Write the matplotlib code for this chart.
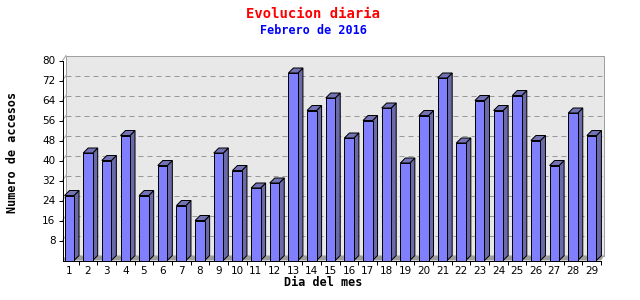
import numpy as np
import matplotlib
matplotlib.use("Agg")
import matplotlib.pyplot as plt
from matplotlib.patches import Polygon

# Data
days = list(range(1, 30))
visits = [26, 43, 40, 50, 26, 38, 22, 16, 43, 36,
          29, 31, 75, 60, 65, 49, 56, 61, 39, 58,
          73, 47, 64, 60, 66, 48, 38, 59, 50]
y_ticks = [8, 16, 24, 32, 40, 48, 56, 64, 72, 80]

title = "Evolucion diaria"
subtitle = "Febrero de 2016"
xlabel = "Dia del mes"
ylabel = "Numero de accesos"

# Styling
front_col = "#8080ff"
side_col = "#6a6aa8"
top_col = "#7272b4"
wall_col = "#e8e8e8"
floor_col = "#9c9c9c"
mono = ["DejaVu Sans Mono"]
lw = 0.72  # ~1 px

W, H = 640, 300
fig = plt.figure(figsize=(W / 100, H / 100), dpi=100)
fig.patch.set_facecolor("white")

# axes box in pixels (front plane)
ax_left, ax_right = 62.5, 601.0
ax_bottom, ax_top = 260.5, 60.5
ax = fig.add_axes([ax_left / W, 1 - ax_bottom / H,
                   (ax_right - ax_left) / W, (ax_bottom - ax_top) / H])
ax.set_facecolor("none")

x0, x1 = 0.636, 29.5
ax.set_xlim(x0, x1)
ax.set_ylim(0, 80)

px_x = (ax_right - ax_left) / (x1 - x0)   # pixels per x unit
px_y = (ax_bottom - ax_top) / 80.0         # pixels per y unit

# depth offsets (data units)
wdx, wdy = 3.5 / px_x, 5.0 / px_y   # back wall
bdx, bdy = 5.0 / px_x, 5.0 / px_y   # bar depth
bw = 9.5 / px_x                      # bar front width

# back wall
ax.add_patch(Polygon([(x0 + wdx, wdy), (x1 + wdx, wdy), (x1 + wdx, 80 + wdy),
                      (x0 + wdx, 80 + wdy)], closed=True, facecolor=wall_col,
                     edgecolor="#a0a0a0", lw=lw, clip_on=False, zorder=0))
ax.plot([x0, x0 + wdx], [80, 80 + wdy], color="#a0a0a0", lw=lw, clip_on=False, zorder=1)

# dashed grid on the wall
for yt in y_ticks[:-1]:
    ax.plot([x0 + wdx, x1 + wdx], [yt + wdy, yt + wdy], color="#999999", lw=lw,
            ls=(0, (5, 4)), clip_on=False, zorder=1)
    ax.plot([x0, x0 + wdx], [yt, yt + wdy], color="#a8a8a8", lw=lw, clip_on=False, zorder=1)

# floor
ax.add_patch(Polygon([(x0, 0), (x1, 0), (x1 + wdx, wdy), (x0 + wdx, wdy)], closed=True,
                     facecolor=floor_col, edgecolor="none", clip_on=False, zorder=1))

# bars: front faces
ax.bar(days, visits, width=bw, color=front_col, edgecolor="black", linewidth=lw, zorder=3)

# bars: side and top faces
for d, v in zip(days, visits):
    l, r = d - bw / 2, d + bw / 2
    ax.add_patch(Polygon([(r, 0), (r + bdx, bdy), (r + bdx, v + bdy), (r, v)], closed=True,
                         facecolor=side_col, edgecolor="black", lw=lw, clip_on=False, zorder=2))
    ax.add_patch(Polygon([(l, v), (r, v), (r + bdx, v + bdy), (l + bdx, v + bdy)], closed=True,
                         facecolor=top_col, edgecolor="black", lw=lw, clip_on=False, zorder=2))

# axes
for s in ["top", "right"]:
    ax.spines[s].set_visible(False)
for s in ["left", "bottom"]:
    ax.spines[s].set_color("black")
    ax.spines[s].set_linewidth(lw)
    ax.spines[s].set_zorder(5)

ax.set_yticks(y_ticks)
ax.set_yticklabels([str(t) for t in y_ticks], fontsize=7.5, family="DejaVu Sans")
ax.tick_params(axis="y", length=3, width=lw, direction="out", pad=2)

ax.set_xticks([d + 0.5 for d in days])
ax.set_xticklabels([])
ax.set_xticks(days, minor=True)
ax.set_xticklabels([str(d) for d in days], minor=True, fontsize=7.5, family="DejaVu Sans")
ax.tick_params(axis="x", which="major", length=3, width=lw, direction="out")
ax.tick_params(axis="x", which="minor", length=0, pad=4)

# texts
fig.text(313 / W, 1 - 14 / H, title, color="red", fontsize=10, family=mono,
         fontweight="bold", ha="center", va="center")
fig.text(313 / W, 1 - 31 / H, subtitle, color="blue", fontsize=8.5, family=mono,
         fontweight="bold", ha="center", va="center")
fig.text(323 / W, 1 - 282 / H, xlabel, color="black", fontsize=8.5, family=mono,
         fontweight="bold", ha="center", va="center")
fig.text(13 / W, 1 - 152 / H, ylabel, color="black", fontsize=8.5, family=mono,
         fontweight="bold", ha="center", va="center", rotation=90)

fig.savefig("out.png", dpi=100)
